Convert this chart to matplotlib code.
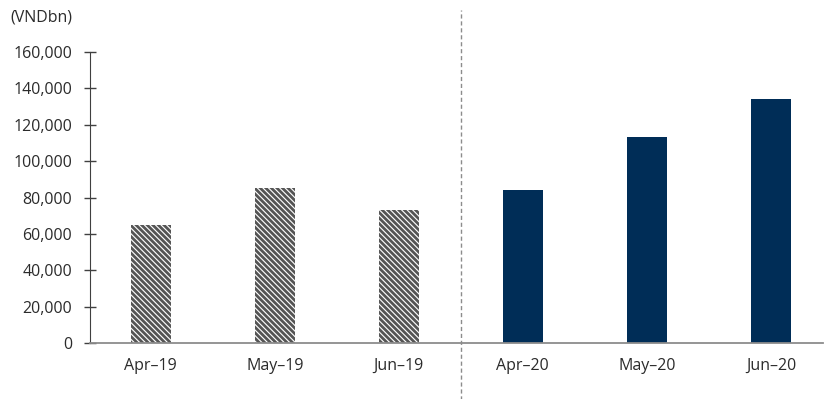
import matplotlib
matplotlib.use("Agg")
import matplotlib.pyplot as plt
import matplotlib.transforms as mtransforms

categories = ["Apr-19", "May-19", "Jun-19", "Apr-20", "May-20", "Jun-20"]
values = [65000, 85000, 73000, 84000, 113000, 134000]
hatched = [True, True, True, False, False, False]
yticks = [0, 20000, 40000, 60000, 80000, 100000, 120000, 140000, 160000]
unit_label = "(VNDbn)"

plt.rcParams['font.family'] = ['Open Sans', 'DejaVu Sans']
plt.rcParams['hatch.linewidth'] = 2.0
plt.rcParams['hatch.color'] = '#555555'

fig = plt.figure(figsize=(8.25, 3.99), dpi=100)
ax = fig.add_axes([90/825, 1-343/399, (823-90)/825, (343-52)/399])

x = list(range(len(categories)))
for xi, v, h in zip(x, values, hatched):
    if h:
        ax.bar(xi, v, width=0.32, facecolor='white', edgecolor='#555555',
               hatch='\\' * 6, linewidth=0)
    else:
        ax.bar(xi, v, width=0.32, color='#002D57', edgecolor='none')

ax.set_xlim(-0.49, 5.42)
ax.set_ylim(0, 160000)
ax.set_yticks(yticks)
ax.set_yticklabels([f"{t:,}" for t in yticks])
ax.set_xticks(x)
ax.set_xticklabels([c.replace('-', '\u2013') for c in categories])

for s in ['top', 'right']:
    ax.spines[s].set_visible(False)
ax.spines['left'].set_color('#404040')
ax.spines['bottom'].set_color('#8c8c8c')
ax.spines['bottom'].set_linewidth(1.3)

ax.tick_params(axis='y', direction='inout', length=8, width=1, color='#404040',
               labelsize=11.5, labelcolor='#2b2b2b', pad=9)
ax.tick_params(axis='x', length=0, labelsize=11.5, labelcolor='#2b2b2b', pad=11)

trans = mtransforms.blended_transform_factory(ax.transData, ax.transAxes)
ax.plot([2.505, 2.505], [-0.2, 1.145], transform=trans, color='#8c8c8c',
        linestyle=(0, (3, 2)), linewidth=1, clip_on=False)

fig.text(10/825, 1-17/399, unit_label, fontsize=11.5, color='#2b2b2b', va='center', ha='left')

fig.savefig("out.png", dpi=100)
